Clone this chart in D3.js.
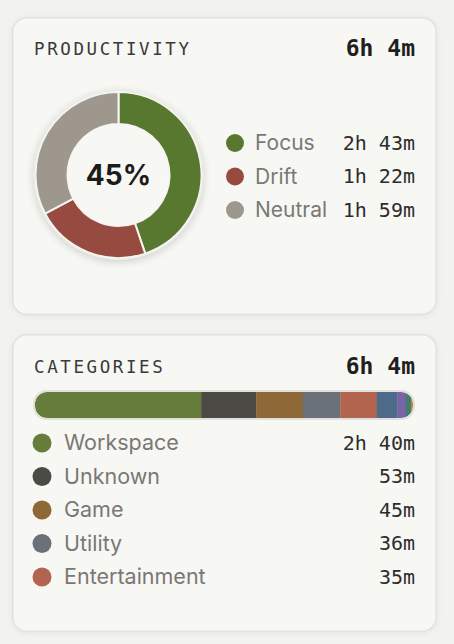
<!DOCTYPE html>
<html><head><meta charset="utf-8">
<script src="https://cdn.jsdelivr.net/npm/d3@7/dist/d3.min.js"></script>
<style>
html,body{margin:0;padding:0;background:#f2f2ef;}
svg{display:block;}
</style></head>
<body><svg id="c" width="454" height="644"></svg>
<script>
const prodLabels = ["Focus", "Drift", "Neutral"];
const prodMinutes = [163, 82, 119];
const prodColors = ["#57782e", "#974a3f", "#9d978d"];

const catLabels = ["Workspace", "Unknown", "Game", "Utility", "Entertainment", "Communication", "Creative", "Education", "Other"];
const catMinutes = [160, 53, 45, 36, 35, 20, 8, 5, 2];
const catColors = ["#667c3a", "#4b4a45", "#8f6838", "#6a717b", "#b2644f", "#4f6b8a", "#7b63a8", "#3f7f72", "#c08a2c"];
const catShown = 5;

const titles = ["PRODUCTIVITY", "CATEGORIES"];

const mono = "'DejaVu Sans Mono', 'Liberation Mono', monospace";
const sans = "Inter, 'Noto Sans', sans-serif";
const fmt = m => { const h = Math.floor(m / 60), r = m % 60; return h > 0 ? `${h}h ${r}m` : `${r}m`; };

const svg = d3.select("#c");
const defs = svg.append("defs");
const sh = defs.append("filter").attr("id", "sh").attr("x", "-30%").attr("y", "-30%").attr("width", "160%").attr("height", "160%");
sh.append("feGaussianBlur").attr("in", "SourceAlpha").attr("stdDeviation", 4);
sh.append("feOffset").attr("dy", 2).attr("result", "b");
sh.append("feComponentTransfer").append("feFuncA").attr("type", "linear").attr("slope", 0.18);
const m = sh.append("feMerge"); m.append("feMergeNode"); m.append("feMergeNode").attr("in", "SourceGraphic");

const cs = defs.append("filter").attr("id", "cs").attr("x", "-10%").attr("y", "-10%").attr("width", "120%").attr("height", "120%");
cs.append("feGaussianBlur").attr("in", "SourceAlpha").attr("stdDeviation", 3);
cs.append("feOffset").attr("dy", 1);
cs.append("feComponentTransfer").append("feFuncA").attr("type", "linear").attr("slope", 0.06);
const m2 = cs.append("feMerge"); m2.append("feMergeNode"); m2.append("feMergeNode").attr("in", "SourceGraphic");

// cards
[[12, 17, 425, 298], [12, 334, 425, 298]].forEach(([x, y, w, h]) => {
  svg.append("rect").attr("x", x + 0.75).attr("y", y + 0.75).attr("width", w - 1.5).attr("height", h - 1.5)
    .attr("rx", 14).attr("fill", "#f7f7f4").attr("stroke", "#e2e2de").attr("stroke-width", 1.5).attr("filter", "url(#cs)");
});

function header(y, title, total) {
  svg.append("text").attr("x", 34).attr("y", y).text(title)
    .attr("font-family", mono).attr("font-size", 17.5).attr("letter-spacing", 2.6).attr("fill", "#3a3a38");
  svg.append("text").attr("x", 415).attr("y", y + 1).attr("text-anchor", "end").text(total)
    .attr("font-family", mono).attr("font-size", 23).attr("font-weight", "bold").attr("fill", "#1f1f1d");
}

// Productivity
const prodTotal = d3.sum(prodMinutes);
header(55, titles[0], fmt(prodTotal));

const cx = 118.5, cy = 175, R = 83, r = 51;
const pie = d3.pie().sort(null).value(d => d)(prodMinutes);
const arc = d3.arc().innerRadius(r).outerRadius(R);
const g = svg.append("g").attr("transform", `translate(${cx},${cy})`);
g.append("circle").attr("r", R + 1).attr("fill", "#ffffff").attr("stroke", "#e6e6e2").attr("stroke-width", 1.5).attr("filter", "url(#sh)");
g.selectAll("path.s").data(pie).enter().append("path").attr("class", "s")
  .attr("d", arc).attr("fill", (d, i) => prodColors[i]).attr("stroke", "#f4f4f1").attr("stroke-width", 2);
g.append("circle").attr("r", r - 1).attr("fill", "#f7f7f4");
g.append("text").attr("y", 10).attr("text-anchor", "middle").text(Math.round(prodMinutes[0] / prodTotal * 100) + "%")
  .attr("font-family", sans).attr("font-size", 28).attr("font-weight", 700).attr("fill", "#1c1c1a");

const ly = d3.scalePoint().domain(prodLabels).range([143, 210]);
prodLabels.forEach((lab, i) => {
  const y = ly(lab);
  svg.append("circle").attr("cx", 235).attr("cy", y).attr("r", 9).attr("fill", prodColors[i]);
  svg.append("text").attr("x", 255).attr("y", y + 7).text(lab)
    .attr("font-family", sans).attr("font-size", 21).attr("fill", "#7a7874");
  svg.append("text").attr("x", 415).attr("y", y + 6.5).attr("text-anchor", "end").text(fmt(prodMinutes[i]))
    .attr("font-family", mono).attr("font-size", 20).attr("fill", "#2c2c2a");
});

// Categories
const catTotal = d3.sum(catMinutes);
header(373, titles[1], fmt(catTotal));

const bx0 = 35, bx1 = 413, by = 392, bh = 26;
const x = d3.scaleLinear().domain([0, catTotal]).range([bx0, bx1]);
defs.append("clipPath").attr("id", "bc").append("rect").attr("x", bx0).attr("y", by).attr("width", bx1 - bx0).attr("height", bh).attr("rx", 12);
const cum = d3.cumsum(catMinutes);
const bar = svg.append("g").attr("clip-path", "url(#bc)");
bar.selectAll("rect").data(catMinutes).enter().append("rect")
  .attr("x", (d, i) => x(cum[i] - d)).attr("width", (d, i) => x(cum[i]) - x(cum[i] - d) + 0.3)
  .attr("y", by).attr("height", bh).attr("fill", (d, i) => catColors[i]);
svg.append("rect").attr("x", bx0 - 1).attr("y", by - 1).attr("width", bx1 - bx0 + 2).attr("height", bh + 2)
  .attr("rx", 13).attr("fill", "none").attr("stroke", "#e0e0dc").attr("stroke-width", 2);

const cy0 = d3.scalePoint().domain(catLabels.slice(0, catShown)).range([443, 577]);
catLabels.slice(0, catShown).forEach((lab, i) => {
  const y = cy0(lab);
  svg.append("circle").attr("cx", 42).attr("cy", y).attr("r", 9.5).attr("fill", catColors[i]);
  svg.append("text").attr("x", 64).attr("y", y + 7).text(lab)
    .attr("font-family", sans).attr("font-size", 21.5).attr("fill", "#7a7874");
  svg.append("text").attr("x", 415).attr("y", y + 6.5).attr("text-anchor", "end").text(fmt(catMinutes[i]))
    .attr("font-family", mono).attr("font-size", 20).attr("fill", "#2c2c2a");
});
</script></body></html>
